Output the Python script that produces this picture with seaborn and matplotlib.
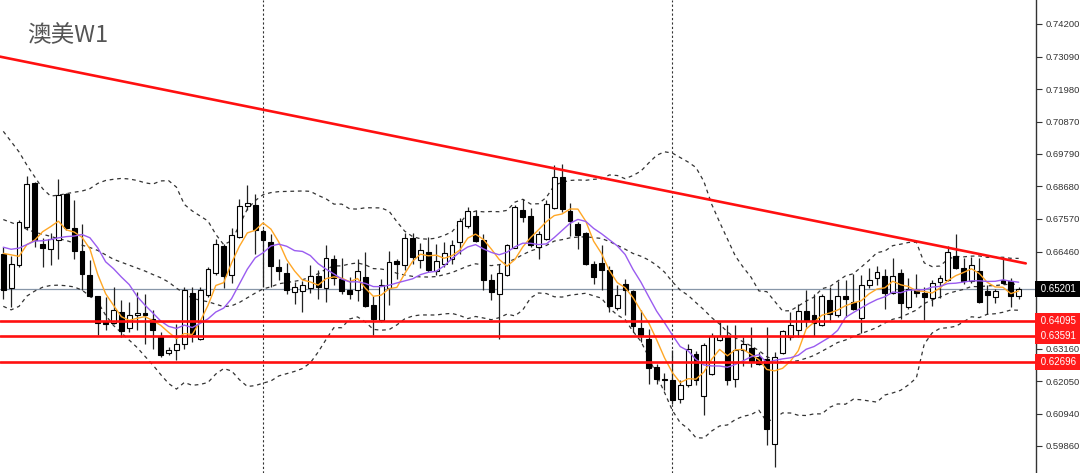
import numpy as np
import pandas as pd
import matplotlib
matplotlib.use('Agg')
import matplotlib.pyplot as plt
import matplotlib.transforms as mtransforms
import seaborn as sns

sns.set_style('white')
plt.rcParams['font.family'] = ['Noto Sans CJK SC', 'DejaVu Sans']
plt.rcParams['axes.unicode_minus'] = False

# ==================== 周线K线数据 (澳美 W1) ====================
opens = [
    0.6639, 0.6523, 0.6602, 0.6729, 0.6879, 0.6673, 0.6656, 0.6684, 0.6843, 0.6727,
    0.6647, 0.6568, 0.6494, 0.6409, 0.6405, 0.6440, 0.6387, 0.6432, 0.6437, 0.6418,
    0.6358, 0.6301, 0.6313, 0.6333, 0.6506, 0.6348, 0.6497, 0.6573, 0.6664, 0.6565,
    0.6696, 0.6800, 0.6803, 0.6715, 0.6678, 0.6593, 0.6573, 0.6509, 0.6513, 0.6523,
    0.6564, 0.6523, 0.6621, 0.6554, 0.6514, 0.6515, 0.6559, 0.6463, 0.6412, 0.6524,
    0.6614, 0.6599, 0.6691, 0.6618, 0.6644, 0.6580, 0.6604, 0.6620, 0.6678, 0.6734,
    0.6768, 0.6685, 0.6548, 0.6503, 0.6565, 0.6659, 0.6789, 0.6766, 0.6661, 0.6690,
    0.6796, 0.6901, 0.6784, 0.6739, 0.6708, 0.6605, 0.6607, 0.6583, 0.6455, 0.6537,
    0.6511, 0.6387, 0.6350, 0.6253, 0.6214, 0.6208, 0.6146, 0.6191, 0.6299, 0.6154,
    0.6231, 0.6347, 0.6358, 0.6214, 0.6310, 0.6319, 0.6287, 0.6282, 0.5991, 0.6301,
    0.6355, 0.6381, 0.6443, 0.6429, 0.6395, 0.6483, 0.6429, 0.6494, 0.6474, 0.6421,
    0.6531, 0.6557, 0.6562, 0.6507, 0.6573, 0.6457, 0.6518, 0.6507, 0.6489, 0.6542,
    0.6551, 0.6632, 0.6591, 0.6547, 0.6581, 0.6511, 0.6491, 0.6549, 0.6546, 0.6494,
]
closes = [
    0.6517, 0.6605, 0.6746, 0.6875, 0.6684, 0.6659, 0.6690, 0.6840, 0.6727, 0.6647,
    0.6569, 0.6495, 0.6403, 0.6401, 0.6449, 0.6376, 0.6432, 0.6439, 0.6429, 0.6381,
    0.6296, 0.6313, 0.6333, 0.6514, 0.6365, 0.6517, 0.6586, 0.6673, 0.6562, 0.6701,
    0.6800, 0.6812, 0.6718, 0.6687, 0.6596, 0.6580, 0.6514, 0.6525, 0.6534, 0.6562,
    0.6525, 0.6625, 0.6555, 0.6512, 0.6501, 0.6580, 0.6460, 0.6418, 0.6531, 0.6610,
    0.6603, 0.6694, 0.6627, 0.6653, 0.6582, 0.6614, 0.6641, 0.6670, 0.6750, 0.6784,
    0.6683, 0.6549, 0.6508, 0.6573, 0.6670, 0.6797, 0.6763, 0.6667, 0.6705, 0.6809,
    0.6899, 0.6791, 0.6751, 0.6703, 0.6603, 0.6559, 0.6582, 0.6460, 0.6500, 0.6515,
    0.6392, 0.6361, 0.6251, 0.6214, 0.6208, 0.6140, 0.6191, 0.6316, 0.6208, 0.6327,
    0.6358, 0.6358, 0.6208, 0.6310, 0.6333, 0.6274, 0.6265, 0.6044, 0.6287, 0.6376,
    0.6395, 0.6444, 0.6412, 0.6403, 0.6495, 0.6433, 0.6494, 0.6485, 0.6452, 0.6531,
    0.6551, 0.6576, 0.6505, 0.6564, 0.6471, 0.6520, 0.6506, 0.6491, 0.6539, 0.6555,
    0.6646, 0.6590, 0.6546, 0.6602, 0.6474, 0.6497, 0.6511, 0.6540, 0.6494, 0.6520,
]
highs = [
    0.6661, 0.6630, 0.6752, 0.6902, 0.6882, 0.6691, 0.6708, 0.6894, 0.6845, 0.6820,
    0.6739, 0.6616, 0.6495, 0.6491, 0.6525, 0.6480, 0.6474, 0.6508, 0.6503, 0.6446,
    0.6372, 0.6321, 0.6399, 0.6525, 0.6525, 0.6525, 0.6593, 0.6690, 0.6673, 0.6728,
    0.6825, 0.6871, 0.6841, 0.6724, 0.6707, 0.6620, 0.6606, 0.6544, 0.6545, 0.6599,
    0.6582, 0.6667, 0.6633, 0.6623, 0.6559, 0.6620, 0.6644, 0.6494, 0.6554, 0.6649,
    0.6622, 0.6708, 0.6710, 0.6676, 0.6697, 0.6671, 0.6678, 0.6684, 0.6762, 0.6797,
    0.6786, 0.6705, 0.6569, 0.6605, 0.6673, 0.6803, 0.6826, 0.6795, 0.6716, 0.6820,
    0.6939, 0.6943, 0.6812, 0.6747, 0.6713, 0.6613, 0.6667, 0.6597, 0.6531, 0.6552,
    0.6514, 0.6446, 0.6384, 0.6265, 0.6233, 0.6310, 0.6211, 0.6333, 0.6308, 0.6334,
    0.6369, 0.6406, 0.6395, 0.6395, 0.6355, 0.6389, 0.6304, 0.6389, 0.6304, 0.6378,
    0.6440, 0.6469, 0.6517, 0.6501, 0.6503, 0.6525, 0.6546, 0.6548, 0.6569, 0.6565,
    0.6591, 0.6598, 0.6586, 0.6625, 0.6588, 0.6555, 0.6571, 0.6525, 0.6548, 0.6565,
    0.6665, 0.6707, 0.6625, 0.6627, 0.6625, 0.6531, 0.6520, 0.6620, 0.6557, 0.6525,
]
lows = [
    0.6486, 0.6457, 0.6593, 0.6718, 0.6661, 0.6593, 0.6599, 0.6622, 0.6718, 0.6622,
    0.6514, 0.6491, 0.6361, 0.6378, 0.6401, 0.6355, 0.6372, 0.6378, 0.6333, 0.6315,
    0.6287, 0.6293, 0.6276, 0.6316, 0.6338, 0.6344, 0.6491, 0.6565, 0.6524, 0.6538,
    0.6693, 0.6786, 0.6639, 0.6525, 0.6525, 0.6548, 0.6503, 0.6469, 0.6440, 0.6507,
    0.6486, 0.6474, 0.6531, 0.6503, 0.6486, 0.6477, 0.6457, 0.6361, 0.6406, 0.6463,
    0.6554, 0.6582, 0.6603, 0.6592, 0.6576, 0.6565, 0.6593, 0.6605, 0.6637, 0.6728,
    0.6678, 0.6514, 0.6480, 0.6350, 0.6562, 0.6657, 0.6748, 0.6661, 0.6622, 0.6684,
    0.6790, 0.6780, 0.6698, 0.6656, 0.6599, 0.6537, 0.6514, 0.6440, 0.6446, 0.6429,
    0.6372, 0.6338, 0.6197, 0.6197, 0.6174, 0.6129, 0.6132, 0.6185, 0.6191, 0.6089,
    0.6225, 0.6342, 0.6191, 0.6185, 0.6256, 0.6253, 0.6259, 0.5987, 0.5913, 0.6299,
    0.6344, 0.6355, 0.6389, 0.6358, 0.6392, 0.6406, 0.6423, 0.6423, 0.6446, 0.6369,
    0.6523, 0.6531, 0.6452, 0.6501, 0.6418, 0.6452, 0.6491, 0.6414, 0.6460, 0.6490,
    0.6545, 0.6586, 0.6537, 0.6541, 0.6471, 0.6435, 0.6471, 0.6537, 0.6458, 0.6486,
]

# 图表左侧之前的历史数据看不到，这里直接读出前几根K线上指标线的数值
ma5_early = [0.6640, 0.6635, 0.6630, 0.6670]
ma10_early = [0.6661, 0.6654, 0.6658, 0.6670, 0.6682, 0.6683, 0.6687, 0.6693, 0.6697]
bb_upper_early = [0.7055, 0.7020, 0.6985, 0.6940, 0.6900, 0.6860, 0.6835, 0.6838, 0.6843, 0.6848,
                  0.6852, 0.6860, 0.6878, 0.6888, 0.6892, 0.6895, 0.6893, 0.6888, 0.6880]
bb_mid_early = [0.6755, 0.6745, 0.6735, 0.6722, 0.6712, 0.6705, 0.6698, 0.6690, 0.6684, 0.6675,
                0.6668, 0.6660, 0.6650, 0.6635, 0.6620, 0.6610, 0.6600, 0.6590, 0.6580]
bb_lower_early = [0.6460, 0.6448, 0.6460, 0.6495, 0.6512, 0.6525, 0.6531, 0.6532, 0.6530, 0.6526,
                  0.6515, 0.6495, 0.6475, 0.6430, 0.6395, 0.6370, 0.6345, 0.6320, 0.6290]

# 水平支撑位、当前价、趋势线、分隔线
support_levels = [0.64095, 0.63591, 0.62696]
last_price = 0.65201
trend_x = [-0.42, 129.9]
trend_y = [0.7309, 0.6606]
separator_bars = [33, 85]
tick_vals = [0.74200, 0.73090, 0.71980, 0.70870, 0.69790, 0.68680, 0.67570,
             0.66460, 0.65350, 0.64230, 0.63160, 0.62050, 0.60940, 0.59860]
title_text = "澳美W1"

# ==================== 计算指标 ====================
df = pd.DataFrame({'open': opens, 'high': highs, 'low': lows, 'close': closes})
df['i'] = np.arange(len(df))

ma5 = df['close'].rolling(5).mean()
ma5.iloc[:len(ma5_early)] = ma5_early
ma10 = df['close'].rolling(10).mean()
ma10.iloc[:len(ma10_early)] = ma10_early
mid = df['close'].rolling(20).mean()
std = df['close'].rolling(20).std(ddof=0)
upper = mid + 2 * std
lower = mid - 2 * std
n0 = len(bb_mid_early)
mid.iloc[:n0] = bb_mid_early
upper.iloc[:n0] = bb_upper_early
lower.iloc[:n0] = bb_lower_early

# ==================== 绘图 ====================
fig = plt.figure(figsize=(10.8, 4.73), dpi=100)
ax = fig.add_axes([0, 0, 1036 / 1080, 1])

# 布林带 (虚线)
for band in [upper, mid, lower]:
    sns.lineplot(x=df['i'], y=band.values, ax=ax, color='#333333', linewidth=0.9,
                 linestyle=(0, (3, 3)), estimator=None, sort=False, zorder=2)

# K线
up = df['close'] >= df['open']
ax.vlines(df['i'], df['low'], df['high'], color='#222222', linewidth=0.9, zorder=3)
body_bottom = np.minimum(df['open'], df['close'])
body_height = np.maximum(np.abs(df['close'] - df['open']), 0.00015)
ax.bar(df['i'][up], body_height[up], bottom=body_bottom[up], width=0.62,
       color='white', edgecolor='black', linewidth=0.8, zorder=4)
ax.bar(df['i'][~up], body_height[~up], bottom=body_bottom[~up], width=0.62,
       color='black', edgecolor='black', linewidth=0.8, zorder=4)

# 均线
sns.lineplot(x=df['i'], y=ma5.values, ax=ax, color='#ffa726', linewidth=1.0,
             estimator=None, sort=False, zorder=5)
sns.lineplot(x=df['i'], y=ma10.values, ax=ax, color='#9a5cf0', linewidth=1.0,
             estimator=None, sort=False, zorder=5)

# 当前价水平线
ax.axhline(last_price, color='#8796a8', linewidth=0.9, zorder=1)

# 支撑线与趋势线
for lv in support_levels:
    ax.axhline(lv, color='#ff1010', linewidth=1.9, zorder=6)
ax.plot(trend_x, trend_y, color='#ff1010', linewidth=1.9, zorder=6)

# 周期分隔线
for b in separator_bars:
    ax.axvline(b, color='#333333', linewidth=0.8, linestyle=(0, (2, 2)), zorder=1)

ax.set_xlim(-0.42, 131.2)
ax.set_ylim(0.58933, 0.75016)
ax.set_xticks([])
ax.set_yticks(tick_vals)
ax.set_yticklabels([f'{v:.5f}' for v in tick_vals])
ax.yaxis.tick_right()
ax.tick_params(axis='y', right=True, left=False, labelright=True, labelleft=False,
               length=4, width=0.8, pad=3, labelsize=6.8, labelcolor='#333333', color='#333333')
for lbl in ax.get_yticklabels():
    lbl.set_fontfamily('Liberation Sans')
for s in ['left', 'top', 'bottom']:
    ax.spines[s].set_visible(False)
ax.spines['right'].set_color('#333333')
ax.spines['right'].set_linewidth(1.0)
ax.set_xlabel('')
ax.set_ylabel('')

# 右侧价格标签 (盖住后面的刻度文字，和原图一样)
trans = mtransforms.blended_transform_factory(ax.transAxes, ax.transData)
tags = [(last_price, 'black')] + [(lv, '#ff1a1a') for lv in support_levels]
for val, col in tags:
    ax.text(1.002, val, f' {val:.5f}  ', transform=trans, ha='left', va='center',
            fontsize=7.0, color='white', fontfamily='Liberation Sans',
            bbox=dict(boxstyle='square,pad=0.3', fc=col, ec='none'),
            clip_on=False, zorder=10)

# 标题
fig.text(27 / 1080, 1 - 36 / 473, title_text, fontsize=17, color='#555555',
         ha='left', va='center')

fig.savefig('out.png', dpi=100)
